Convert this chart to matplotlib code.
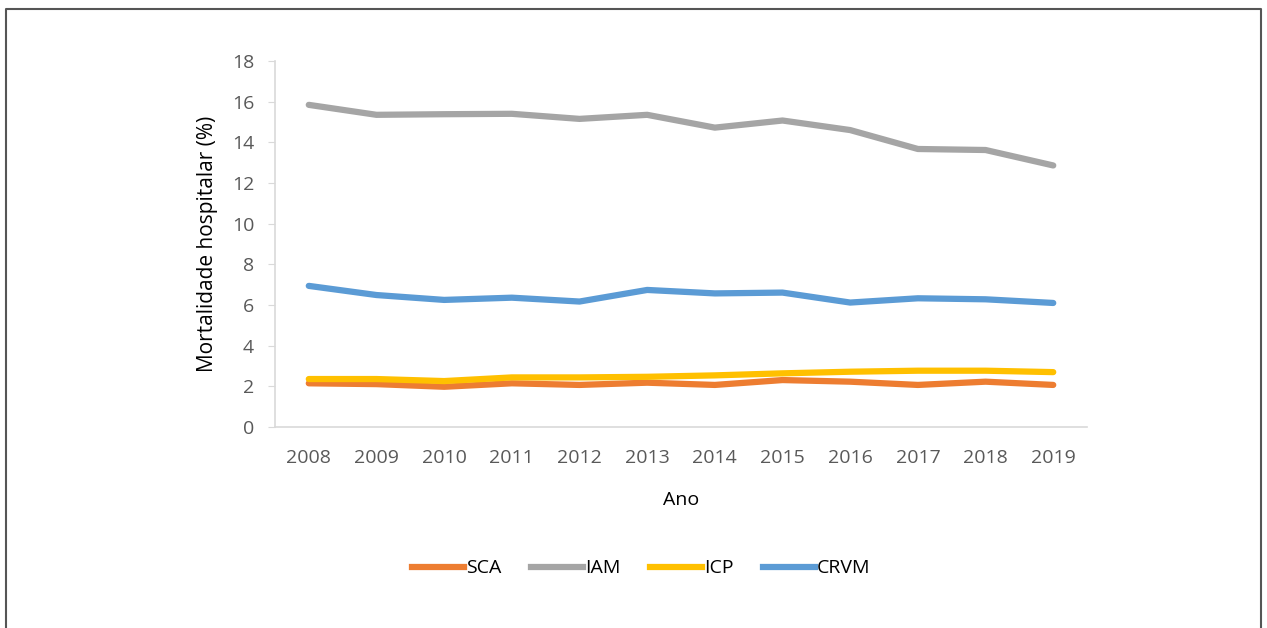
import matplotlib
matplotlib.use("Agg")
from matplotlib import pyplot as plt
from matplotlib.lines import Line2D

anos = ['2008', '2009', '2010', '2011', '2012', '2013', '2014', '2015', '2016', '2017', '2018', '2019']
sca = [2.15, 2.11, 1.98, 2.15, 2.07, 2.18, 2.07, 2.31, 2.23, 2.07, 2.23, 2.07]
iam = [15.84, 15.35, 15.38, 15.40, 15.15, 15.35, 14.72, 15.07, 14.60, 13.67, 13.62, 12.86]
icp = [2.36, 2.36, 2.26, 2.44, 2.44, 2.47, 2.54, 2.64, 2.72, 2.77, 2.77, 2.70]
crvm = [6.94, 6.49, 6.25, 6.36, 6.17, 6.74, 6.57, 6.61, 6.12, 6.33, 6.28, 6.10]

series = [('SCA', sca, '#ED7D31'), ('IAM', iam, '#A5A5A5'),
          ('ICP', icp, '#FFC000'), ('CRVM', crvm, '#5B9BD5')]

plt.rcParams['font.family'] = ['Open Sans', 'DejaVu Sans']

fig = plt.figure(figsize=(12.67, 6.28), dpi=100)
ax = fig.add_axes([0.217, 0.320, 0.641, 0.583])

x = range(len(anos))
for name, vals, color in series:
    ax.plot(x, vals, color=color, lw=4.5, label=name, solid_capstyle='round')

ax.set_xlim(-0.5, len(anos) - 0.5)
ax.set_ylim(0, 18)
ax.set_yticks(range(0, 19, 2))
ax.set_xticks(list(x))
ax.set_xticklabels(anos)
ax.tick_params(axis='both', labelsize=14, labelcolor='#595959', color='#D9D9D9')
ax.tick_params(axis='x', length=0, pad=16)
ax.tick_params(axis='y', length=5, pad=10)
for s in ['top', 'right']:
    ax.spines[s].set_visible(False)
for s in ['left', 'bottom']:
    ax.spines[s].set_color('#D9D9D9')
    ax.spines[s].set_linewidth(1.2)

ax.set_ylabel('Mortalidade hospitalar (%)', fontsize=15, labelpad=10)
ax.set_xlabel('Ano', fontsize=14, labelpad=17)

handles = [Line2D([], [], color=c, lw=4.5) for _, _, c in series]
fig.legend(handles, [n for n, _, _ in series], loc='center', bbox_to_anchor=(0.506, 0.095),
           ncol=4, frameon=False, fontsize=14, handlelength=2.7, handletextpad=0.1,
           columnspacing=1.5)

# figure border (open at the bottom)
bx0, bx1, by = 6 / 1267, 1261 / 1267, 1 - 9 / 628
fig.add_artist(Line2D([bx0, bx0, bx1, bx1], [0, by, by, 0], color='#555555', lw=1.5,
                      transform=fig.transFigure))

fig.savefig('out.png', dpi=100)
